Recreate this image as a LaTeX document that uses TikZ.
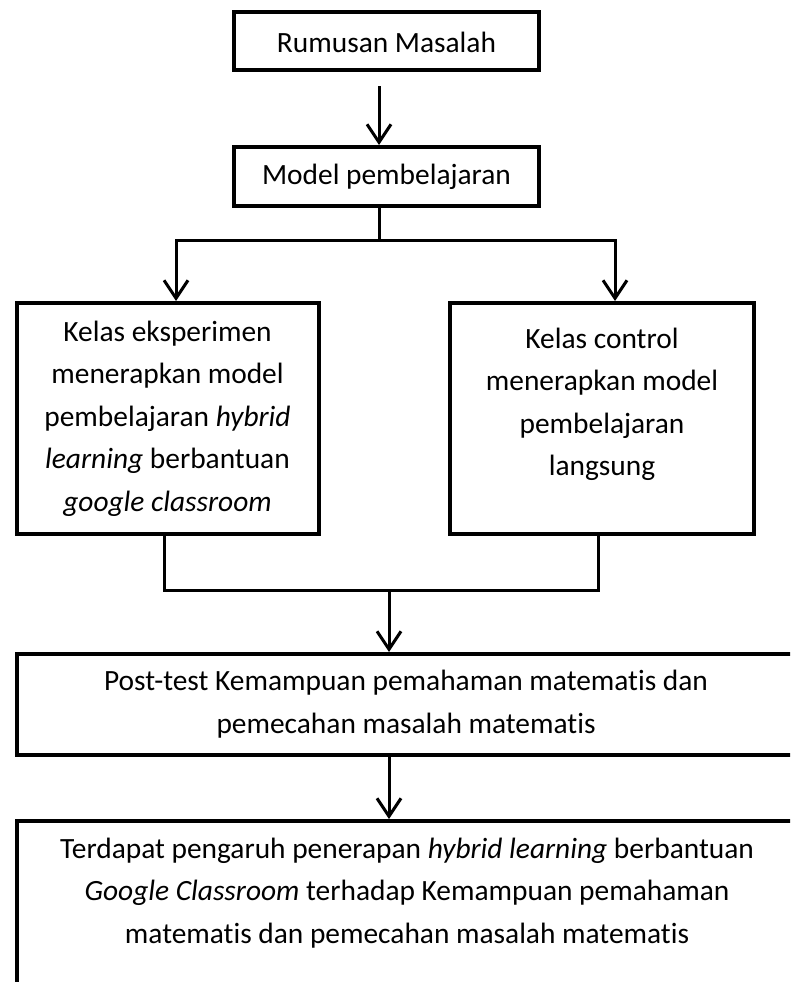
\documentclass[tikz,border=0pt]{standalone}
\usepackage{fontspec}
\setmainfont{Carlito}[Ligatures={NoCommon}]
\usetikzlibrary{arrows.meta}
\begin{document}
\begin{tikzpicture}[x=1pt,y=-1pt,
  box/.style={draw,line width=4pt,inner sep=0pt},
  txt/.style={font=\fontsize{29.4}{42.5}\selectfont,align=center,inner sep=0pt},
  conn/.style={line width=3pt},
  arr/.style={conn,-{Straight Barb[length=18pt,width=24pt]}}]
\useasboundingbox (0,0) rectangle (790,982);
\clip (0,0) rectangle (790,982);
% boxes
\node[box,minimum width=305pt,minimum height=58pt] (b1) at (386.5,41) {};
\node[box,minimum width=305pt,minimum height=59pt] (b2) at (386.5,176.5) {};
\node[box,minimum width=302pt,minimum height=231pt] (L) at (168,418.5) {};
\node[box,minimum width=304pt,minimum height=231pt] (R) at (602,418.5) {};
\node[box,minimum width=788pt,minimum height=101pt] (P) at (411,704.5) {};
\node[box,minimum width=788pt,minimum height=189pt] (F) at (411,915.5) {};
% texts
\node[txt] (t1) at (386.5,42) {Rumusan Masalah};
\node[txt] (t2) at (386.5,177) {Model pembelajaran};
\node[txt] (tL) at (167.5,418.5) {Kelas eksperimen\\menerapkan model\\pembelajaran \textit{hybrid}\\\textit{learning} berbantuan\\\textit{google classroom}};
\node[txt] (tR) at (602,404.5) {Kelas control\\menerapkan model\\pembelajaran\\langsung};
\node[txt] (tP) at (406,704) {Post-test Kemampuan pemahaman matematis dan\\pemecahan masalah matematis};
\node[txt] (tF) at (407,893) {Terdapat pengaruh penerapan \textit{hybrid learning} berbantuan\\\textit{Google Classroom} terhadap Kemampuan pemahaman\\matematis dan pemecahan masalah matematis};
% helper coordinates
\coordinate (c1) at (379,0);
\coordinate (sp) at (379,240);
\coordinate (xl) at (176,0);
\coordinate (xr) at (615,0);
\coordinate (xl2) at (164,0);
\coordinate (xr2) at (598,0);
\coordinate (mg) at (389,590);
% connectors
\draw[arr,shorten <=14pt] (b1.south -| c1) -- (b2.north -| c1);
\draw[conn] (b2.south -| c1) -- (sp);
\draw[arr] (sp) -| (L.north -| xl);
\draw[arr] (sp) -| (R.north -| xr);
\draw[conn] (L.south -| xl2) |- (mg) -| (R.south -| xr2);
\draw[arr] (mg) -- (P.north -| mg);
\draw[arr] (P.south -| mg) -- (F.north -| mg);
\end{tikzpicture}
\end{document}
